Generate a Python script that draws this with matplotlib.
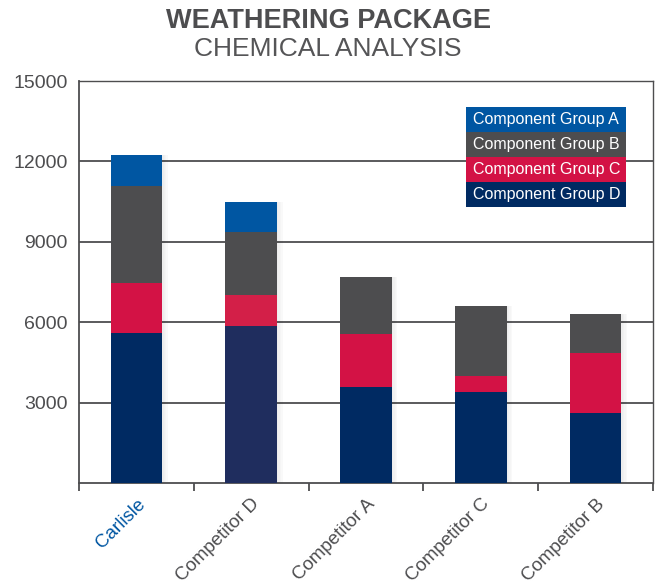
import numpy as np
import matplotlib.pyplot as plt
from matplotlib.patches import Rectangle

plt.rcParams['font.family'] = ['Liberation Sans', 'DejaVu Sans']

cats = ['Carlisle', 'Competitor D', 'Competitor A', 'Competitor C', 'Competitor B']
grp_d = [5600, 5860, 3580, 3395, 2610]
grp_c = [1870, 1155, 1980, 610, 2230]
grp_b = [3610, 2360, 2140, 2600, 1465]
grp_a = [1160, 1110, 0, 0, 0]
groups = ['Component Group A', 'Component Group B', 'Component Group C', 'Component Group D']
yticks = [3000, 6000, 9000, 12000, 15000]

gray = '#4d4d4f'
col_a = '#0056a2'
col_b = '#4d4d4f'
col_c = ['#d31245', '#d31f48', '#d31245', '#d31245', '#d31245']
col_d = ['#002a62', '#1f2d5e', '#002a62', '#002a62', '#002a62']

fig = plt.figure(figsize=(6.56, 5.88), dpi=100)
ax = fig.add_axes([79/656, 1-483/588, 574/656, 402/588])

x = np.arange(len(cats))
w = 0.45
d = np.array(grp_d); c = np.array(grp_c); b = np.array(grp_b); a = np.array(grp_a)
tot = d + c + b + a

# soft shadow on the right of each bar
for i in range(4):
    ax.bar(x + w/2 + 0.012*i + 0.006, tot, width=0.012, color='#000000',
           alpha=0.07 - 0.015*i, zorder=2, linewidth=0)

ax.bar(x, d, w, color=col_d, zorder=3, linewidth=0)
ax.bar(x, c, w, bottom=d, color=col_c, zorder=3, linewidth=0)
ax.bar(x, b, w, bottom=d+c, color=col_b, zorder=3, linewidth=0)
ax.bar(x, a, w, bottom=d+c+b, color=col_a, zorder=3, linewidth=0)

ax.set_xlim(-0.5, len(cats) - 0.5)
ax.set_ylim(0, 15000)
ax.set_yticks(yticks)
ax.set_yticklabels([str(v) for v in yticks], fontsize=14, color=gray)
ax.tick_params(axis='y', length=0, pad=8)
for v in yticks[:-1]:
    ax.axhline(v, color=gray, lw=1.3, zorder=1)

ax.set_xticks(x)
ax.set_xticklabels(cats, rotation=45, ha='right', va='top', rotation_mode='anchor',
                   fontsize=13.5, color=gray)
ax.get_xticklabels()[0].set_color(col_a)
ax.tick_params(axis='x', which='major', length=0, pad=9)
ax.set_xticks(np.arange(-0.5, len(cats)), minor=True)
ax.tick_params(axis='x', which='minor', length=6, width=1.3, color=gray, direction='out')

for s in ax.spines.values():
    s.set_color(gray)
    s.set_linewidth(1.3)
ax.spines['top'].set_linewidth(1.0)
ax.spines['right'].set_linewidth(1.0)

# legend blocks
leg_cols = [col_a, col_b, col_c[0], col_d[0]]
lx0, lx1 = (466-79)/574, (626-79)/574
top = (483-107)/402
rh = 25/402
for i, (g, cc) in enumerate(zip(groups, leg_cols)):
    y0 = top - (i+1)*rh
    ax.add_patch(Rectangle((lx0, y0), lx1-lx0, rh, transform=ax.transAxes,
                           facecolor=cc, edgecolor='none', zorder=5))
    ax.text(lx0 + 7/574, y0 + rh/2, g, transform=ax.transAxes, color='white',
            fontsize=11.5, va='center', ha='left', zorder=6)

fig.text(0.5, 1-21/588, 'WEATHERING PACKAGE', ha='center', va='center',
         fontsize=19.5, fontweight='bold', color=gray)
fig.text(0.5, 1-49/588, 'CHEMICAL ANALYSIS', ha='center', va='center',
         fontsize=19, color='#555557')

fig.savefig('out.png', dpi=100)
